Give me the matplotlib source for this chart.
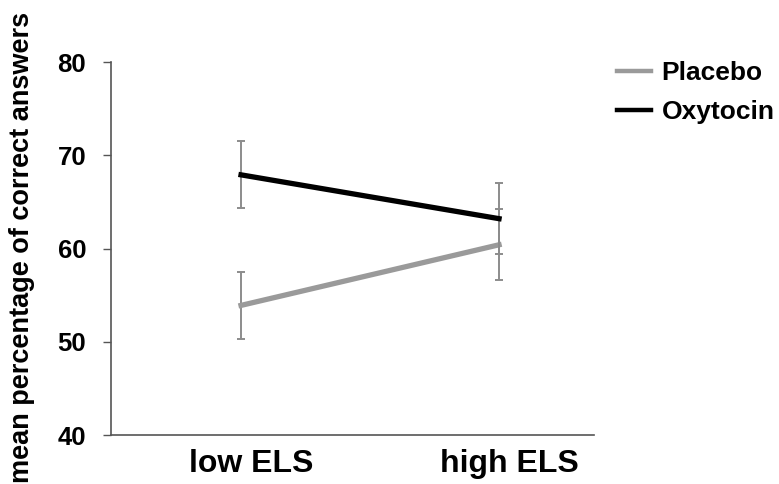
import matplotlib.pyplot as plt
from matplotlib.transforms import ScaledTranslation

# group means and error bars (percent correct)
groups = ["low ELS", "high ELS"]
placebo_mean = [53.9, 60.4]
placebo_err = [3.6, 3.8]
oxytocin_mean = [67.9, 63.2]
oxytocin_err = [3.6, 3.8]

plt.rcParams["font.family"] = ["Liberation Sans", "DejaVu Sans"]

fig = plt.figure(figsize=(7.79, 4.84), dpi=100)
ax = fig.add_axes([0.1425, 0.1012, 0.62, 0.7707])

x = list(range(len(groups)))
ax.errorbar(x, placebo_mean, yerr=placebo_err, color="#9a9a9a", lw=3.8,
            ecolor="#8c8c8c", elinewidth=1.4, capsize=3, capthick=1.4,
            label="Placebo", zorder=2)
ax.errorbar(x, oxytocin_mean, yerr=oxytocin_err, color="black", lw=3.8,
            ecolor="#8c8c8c", elinewidth=1.4, capsize=3, capthick=1.4,
            label="Oxytocin", zorder=3)

ax.set_xlim(-0.504, 1.368)
ax.set_ylim(40, 80)
ax.set_yticks([40, 50, 60, 70, 80])
ax.set_xticks(x)
ax.set_xticklabels(groups, fontsize=23, fontweight="bold")
ax.tick_params(axis="x", length=0, pad=10)
ax.tick_params(axis="y", length=6, width=1, color="#555555",
               labelsize=18.5, pad=12)
for lab in ax.get_yticklabels():
    lab.set_fontweight("bold")

# category labels sit a little right of the data points
shift = ScaledTranslation(7.5 / 72, 0, fig.dpi_scale_trans)
for lab in ax.get_xticklabels():
    lab.set_transform(lab.get_transform() + shift)

for side in ["top", "right"]:
    ax.spines[side].set_visible(False)
for side in ["left", "bottom"]:
    ax.spines[side].set_color("#555555")
    ax.spines[side].set_linewidth(1.2)

fig.text(0.028, 0.488, "mean percentage of correct answers", rotation=90,
         ha="center", va="center", fontsize=19.5, fontweight="bold")

handles, labels = ax.get_legend_handles_labels()
handles = [h[0] for h in handles]
leg = fig.legend(handles, labels, loc="upper left",
                 bbox_to_anchor=(0.779, 0.895), borderaxespad=0,
                 frameon=False, prop={"size": 19, "weight": "bold"},
                 handlelength=1.29, handletextpad=0.38, labelspacing=0.55)
for line in leg.get_lines():
    line.set_linewidth(3.2)

plt.savefig("out.png", dpi=100)
